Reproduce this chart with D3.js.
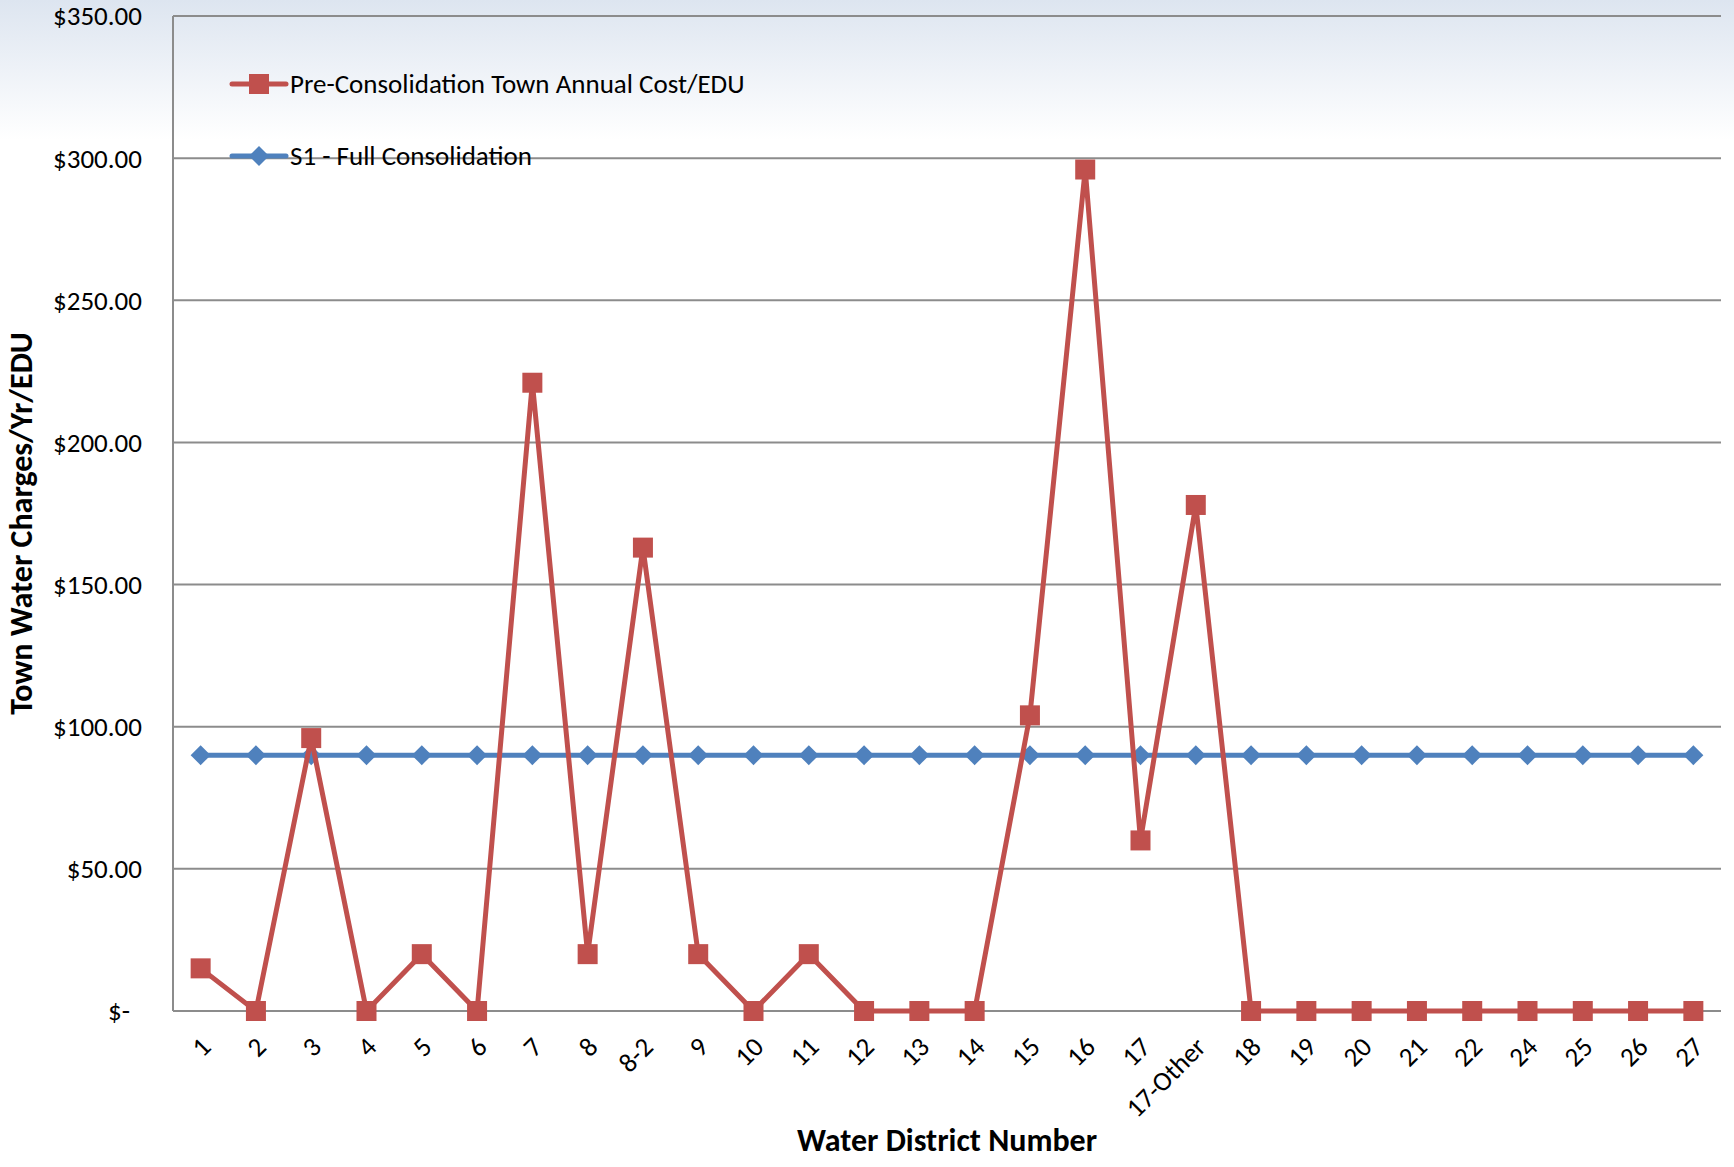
<!DOCTYPE html>
<html>
  <head>
    <script src="https://d3js.org/d3.v7.min.js"></script>
    <style>
      body { margin: 0; background: #fff; }
      text { font-family: Calibri, Carlito, Lato, "Open Sans", sans-serif; fill: #000; }
      .grid line { stroke: #8c8c8c; stroke-width: 2px; }
    </style>
  </head>
  <body>
    <script>

var width = 1734,
    height = 1167;

// water districts along the x axis
var districts = ["1", "2", "3", "4", "5", "6", "7", "8", "8-2", "9", "10", "11", "12", "13",
  "14", "15", "16", "17", "17-Other", "18", "19", "20", "21", "22", "24", "25", "26", "27"];

// pre-consolidation town annual cost per EDU
var preCost = [15, 0, 96, 0, 20, 0, 221, 20, 163, 20, 0, 20, 0, 0,
  0, 104, 296, 60, 178, 0, 0, 0, 0, 0, 0, 0, 0, 0];

// S1 - full consolidation
var fullCons = [90, 90, 90, 90, 90, 90, 90, 90, 90, 90, 90, 90, 90, 90,
  90, 90, 90, 90, 90, 90, 90, 90, 90, 90, 90, 90, 90, 90];

var yTicks = [0, 50, 100, 150, 200, 250, 300, 350];

var seriesNames = ["Pre-Consolidation Town Annual Cost/EDU", "S1 - Full Consolidation"];
var colors = ["#c0504d", "#4f81bd"];

var margin = {top: 16, right: 13, bottom: 156, left: 173};

var svg = d3.select("body").append("svg")
    .attr("width", width)
    .attr("height", height);

// light blue wash at the top
var grad = svg.append("defs").append("linearGradient")
    .attr("id", "bg").attr("x1", 0).attr("y1", 0).attr("x2", 0).attr("y2", 1);
grad.append("stop").attr("offset", "0%").attr("stop-color", "#dde5f0");
grad.append("stop").attr("offset", "100%").attr("stop-color", "#ffffff");
svg.append("rect").attr("width", width).attr("height", 140).attr("fill", "url(#bg)");

var x = d3.scaleBand()
    .domain(districts)
    .range([margin.left, width - margin.right]);

var y = d3.scaleLinear()
    .domain([0, 350])
    .range([height - margin.bottom, margin.top]);

var fmt = function(d) { return d === 0 ? "$-" : "$" + d3.format(".2f")(d); };

// horizontal gridlines
svg.append("g")
    .attr("class", "grid")
    .selectAll("line")
    .data(yTicks)
  .enter().append("line")
    .attr("x1", margin.left)
    .attr("x2", width - margin.right)
    .attr("y1", function(d) { return y(d); })
    .attr("y2", function(d) { return y(d); });

// left axis line
svg.append("line")
    .attr("x1", margin.left).attr("x2", margin.left)
    .attr("y1", y(350)).attr("y2", y(0))
    .attr("stroke", "#8c8c8c").attr("stroke-width", 2);

// y tick labels
svg.append("g").selectAll("text")
    .data(yTicks)
  .enter().append("text")
    .attr("x", function(d) { return d === 0 ? 130 : 142; })
    .attr("y", function(d) { return y(d); })
    .attr("dy", "0.35em")
    .attr("text-anchor", "end")
    .style("font-size", "27px")
    .text(fmt);

// x tick labels, rotated
svg.append("g").selectAll("text")
    .data(districts)
  .enter().append("text")
    .attr("transform", function(d) {
      return "translate(" + (x(d) + x.bandwidth() / 2 + 5) + "," + (y(0) + 31) + ") rotate(-45)";
    })
    .attr("text-anchor", "end")
    .attr("dy", "0.35em")
    .style("font-size", "27px")
    .text(function(d) { return d; });

// axis titles
svg.append("text")
    .attr("x", (margin.left + width - margin.right) / 2)
    .attr("y", 1151)
    .attr("text-anchor", "middle")
    .style("font-size", "32px")
    .style("font-weight", "bold")
    .text("Water District Number");

svg.append("text")
    .attr("transform", "translate(32," + ((y(0) + y(350)) / 2 + 10) + ") rotate(-90)")
    .attr("text-anchor", "middle")
    .style("font-size", "32px")
    .style("font-weight", "bold")
    .text("Town Water Charges/Yr/EDU");

var line = d3.line()
    .x(function(d, i) { return x(districts[i]) + x.bandwidth() / 2; })
    .y(function(d) { return y(d); });

// blue series first, red on top
svg.append("path")
    .datum(fullCons)
    .attr("fill", "none")
    .attr("stroke", colors[1])
    .attr("stroke-width", 5)
    .attr("d", line);

svg.append("g").selectAll("path")
    .data(fullCons)
  .enter().append("path")
    .attr("d", "M0,-10L10,0L0,10L-10,0Z")
    .attr("fill", colors[1])
    .attr("transform", function(d, i) {
      return "translate(" + (x(districts[i]) + x.bandwidth() / 2) + "," + y(d) + ")";
    });

svg.append("path")
    .datum(preCost)
    .attr("fill", "none")
    .attr("stroke", colors[0])
    .attr("stroke-width", 5)
    .attr("stroke-linejoin", "round")
    .attr("d", line);

svg.append("g").selectAll("rect")
    .data(preCost)
  .enter().append("rect")
    .attr("x", function(d, i) { return x(districts[i]) + x.bandwidth() / 2 - 10; })
    .attr("y", function(d) { return y(d) - 10; })
    .attr("width", 20)
    .attr("height", 20)
    .attr("fill", colors[0]);

// legend
var legend = svg.append("g").selectAll("g")
    .data(seriesNames)
  .enter().append("g")
    .attr("transform", function(d, i) { return "translate(232," + (84 + i * 72) + ")"; });

legend.append("line")
    .attr("x1", 0).attr("x2", 54)
    .attr("stroke", function(d, i) { return colors[i]; })
    .attr("stroke-width", 5)
    .attr("stroke-linecap", "round");

legend.append("path")
    .attr("d", function(d, i) { return i === 0 ? "M-10,-10H10V10H-10Z" : "M0,-10L10,0L0,10L-10,0Z"; })
    .attr("transform", "translate(27,0)")
    .attr("fill", function(d, i) { return colors[i]; });

legend.append("text")
    .attr("x", 58)
    .attr("dy", "0.35em")
    .style("font-size", "27px")
    .text(function(d) { return d; });

</script>
  </body>
</html>
